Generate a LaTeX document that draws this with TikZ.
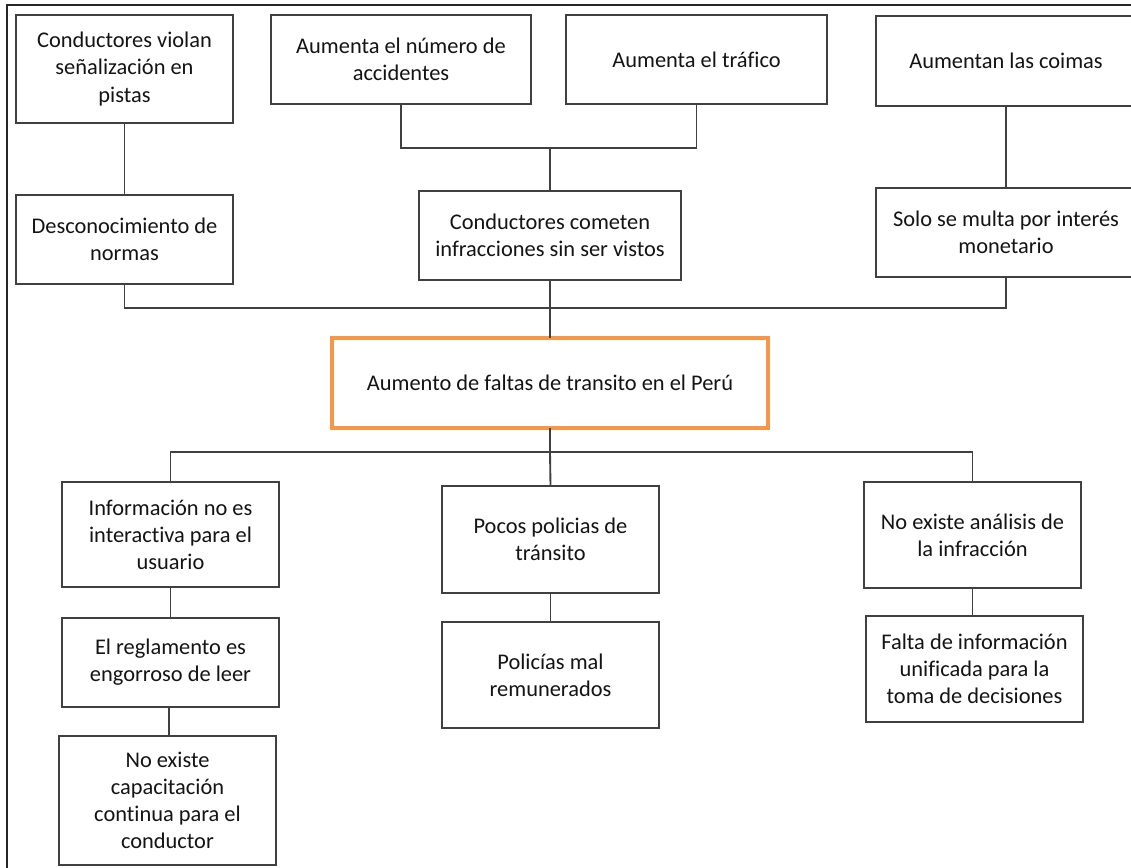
\documentclass[tikz,border=0pt]{standalone}
\usepackage{fontspec}
\setmainfont{Carlito}[Ligatures={NoCommon}]
\begin{document}
\begin{tikzpicture}[x=0.75pt, y=-0.75pt,
  txt/.style={font=\fontsize{16.8pt}{20.3pt}\selectfont, text=black!92, align=center},
  cbox/.style n args={2}{draw=black!75, line width=1.4pt, fill=white, txt,
     inner sep=0pt, outer sep=0pt,
     minimum width=#1*0.75pt, minimum height=#2*0.75pt},
  link/.style={draw=black!75, line width=1.4pt}]
\useasboundingbox (0,0) rectangle (1131,867);
\clip (0,0) rectangle (1131,867);

\definecolor{coreorange}{HTML}{F79646}

% outer frame (top and left edges)
\draw[line width=1.6pt, black!85] (7,870) -- (7,5) -- (1140,5);

% junction points of the tree
\coordinate (j1) at (550,148);
\coordinate (j2) at (550,308);
\coordinate (j3) at (550,452);

% effects (top rows)
\node[cbox={217}{108}] (b1) at (124.5,69) {Conductores violan\\señalización en\\pistas};
\node[cbox={260}{89}]  (b2) at (401,59.5) {Aumenta el número de\\accidentes};
\node[cbox={261}{89}]  (b3) at (696.5,59.5) {Aumenta el tráfico};
\node[cbox={260}{90}]  (b4) at (1006,61) {Aumentan las coimas};
\node[cbox={217}{89}]  (b5) at (124.5,239.5) {Desconocimiento de\\normas};
\node[cbox={262}{89}]  (b6) at (550,235.5) {Conductores cometen\\infracciones sin ser vistos};
\node[cbox={260}{89}]  (b7) at (1006,232.5) {Solo se multa por interés\\monetario};

% central problem
\node[cbox={436}{90}, draw=coreorange, line width=2.6pt] (b8) at (550,383) {Aumento de faltas de transito en el Perú};

% causes (bottom rows)
\node[cbox={217}{105}] (b9)  at (170.5,534.5) {Información no es\\interactiva para el\\usuario};
\node[cbox={217}{107}] (b10) at (550.5,539.5) {Pocos policias de\\tránsito};
\node[cbox={217}{106}] (b11) at (972.5,535) {No existe análisis de\\la infracción};
\node[cbox={217}{89}]  (b12) at (170.5,662.5) {El reglamento es\\engorroso de leer};
\node[cbox={217}{106}] (b13) at (550.5,675) {Policías mal\\remunerados};
\node[cbox={217}{106}] (b14) at (974.5,669) {Falta de información\\unificada para la\\toma de decisiones};
\node[cbox={217}{129}] (b15) at (167.5,800.5) {No existe\\capacitación\\continua para el\\conductor};

% tree connectors
\draw[link] (b1.south) -- (b5.north);
\draw[link] (b2.south) |- (j1) -| (b3.south);
\draw[link] (b6.north) -- (j1);
\draw[link] (b4.south) -- (b7.north);
\draw[link] (b5.south) |- (j2) -| (b7.south);
\draw[link] (b6.south) -- (b8.north);
\draw[link] (b8.south) -- (j3);
\draw[link] (b9.north) |- (j3) -| (b11.north);
\draw[link] (j3) -- (b10.north);
\draw[link] (b9.south) -- (b12.north);
\draw[link] ([xshift=-1.5*0.75pt]b12.south) -- ([xshift=-1.5*0.75pt]b12.south |- b15.north);
\draw[link] (b10.south) -- (b13.north);
\draw[link] (b11.south) -- (b11.south |- b14.north);
\end{tikzpicture}
\end{document}
